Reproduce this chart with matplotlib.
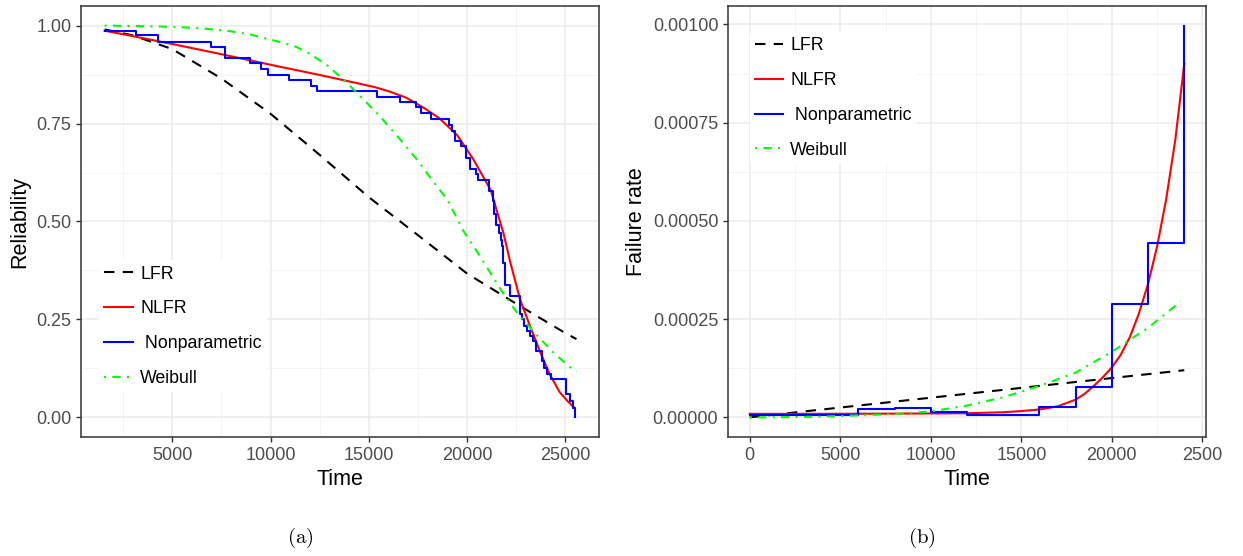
import numpy as np
import matplotlib
matplotlib.use("Agg")
from matplotlib import pyplot as plt
from matplotlib.ticker import MultipleLocator, FormatStrFormatter

plt.rcParams['font.family'] = ['Liberation Sans', 'DejaVu Sans']
plt.rcParams['mathtext.fontset'] = 'cm'

# ---- panel (a): reliability ----
t_lfr = [1560, 3000, 5000, 7500, 10000, 12500, 15000, 17500, 20000, 22500, 25000, 25560]
r_lfr = [0.990, 0.975, 0.940, 0.865, 0.775, 0.670, 0.562, 0.465, 0.367, 0.290, 0.215, 0.200]

t_nlfr = [1560, 2500, 5000, 7500, 10000, 12500, 13500, 14500, 15300, 16100, 16900, 17800,
          18600, 19500, 20300, 21200, 21850, 22200, 22700, 23200, 23700, 24200, 24700,
          25100, 25450]
r_nlfr = [0.987, 0.978, 0.953, 0.927, 0.900, 0.874, 0.863, 0.852, 0.843, 0.831, 0.816, 0.790,
          0.763, 0.720, 0.660, 0.580, 0.470, 0.395, 0.300, 0.233, 0.169, 0.110, 0.065,
          0.042, 0.025]

t_weib = [1560, 3000, 5000, 6500, 7900, 9000, 9600, 10500, 11300, 12000, 12900, 13800,
          14600, 15500, 16500, 17500, 18200, 19000, 19800, 20700, 21700, 22600, 23600,
          24400, 25400, 25560]
r_weib = [1.000, 0.999, 0.997, 0.993, 0.986, 0.977, 0.969, 0.958, 0.946, 0.928, 0.898, 0.858,
          0.818, 0.772, 0.715, 0.655, 0.607, 0.555, 0.477, 0.408, 0.327, 0.263, 0.207,
          0.165, 0.121, 0.117]

# Kaplan-Meier type step curve (value holds until next time)
t_km = [1556, 3150, 4270, 6950, 7660, 8930, 9510, 9870, 10920, 12070, 12360,
        15440, 16560, 17410, 17650, 18160, 19090, 19230, 19360, 19680, 19950,
        20160, 20460, 20550, 21090, 21310, 21390, 21480, 21600, 21720, 21785,
        21850, 21950, 22190, 22670, 22790, 22870, 23040, 23210, 23350, 23500,
        23800, 23890, 24060, 24260, 25040, 25210, 25410, 25510]
r_km = [0.987, 0.975, 0.959, 0.946, 0.918, 0.905, 0.890, 0.875, 0.861, 0.847, 0.833,
        0.818, 0.804, 0.791, 0.777, 0.761, 0.747, 0.732, 0.705, 0.692, 0.661,
        0.635, 0.620, 0.607, 0.579, 0.552, 0.518, 0.492, 0.470, 0.454, 0.437,
        0.395, 0.339, 0.309, 0.265, 0.250, 0.233, 0.220, 0.207, 0.195, 0.169,
        0.144, 0.127, 0.112, 0.097, 0.059, 0.042, 0.025, 0.000]

# ---- panel (b): failure rate ----
t_lfr_h = [0, 24000]
h_lfr = [0.0, 0.000120]

t_nlfr_h = [0, 4000, 8000, 12000, 14000, 15000, 16000, 17000, 18000, 18500, 19000,
            19500, 20000, 20500, 21000, 21500, 22000, 22500, 23000, 23500, 24000]
h_nlfr = [9.0e-6, 9.0e-6, 9.5e-6, 1.05e-5, 1.3e-5, 1.6e-5, 2.0e-5, 2.8e-5, 4.5e-5, 6.0e-5, 8.0e-5,
          1.02e-4, 1.27e-4, 1.60e-4, 2.05e-4, 2.65e-4, 3.40e-4, 4.35e-4, 5.55e-4, 7.05e-4, 9.0e-4]

t_weib_h = [0, 2000, 4000, 6000, 8000, 10000, 12000, 14000, 16000, 18000, 20000, 22000, 23800]
h_weib = [0.0, 0.5e-6, 2.0e-6, 5.0e-6, 8.5e-6, 1.5e-5, 3.0e-5, 5.1e-5, 8.0e-5, 1.14e-4, 1.67e-4,
          2.28e-4, 2.95e-4]

t_np_h = [0, 2000, 4000, 6000, 8000, 10000, 12000, 14000, 16000, 18000, 20000, 22000, 24000, 24000]
h_np = [7e-6, 7e-6, 7e-6, 2.1e-5, 2.3e-5, 1.4e-5, 7e-6, 7e-6, 2.6e-5, 7.6e-5, 2.89e-4, 4.44e-4,
        4.44e-4, 9.97e-4]

dash = (0, (5, 4))
dotdash = (0, (1, 3, 4, 3))
lw = 1.5


def style_axes(ax):
    ax.set_facecolor('white')
    for s in ax.spines.values():
        s.set_color('#333333')
        s.set_linewidth(1.1)
    ax.grid(True, which='major', color='#EBEBEB', lw=1.1)
    ax.grid(True, which='minor', color='#F2F2F2', lw=0.6)
    ax.set_axisbelow(True)
    ax.tick_params(which='major', length=3.5, width=1.0, color='#333333',
                   labelcolor='#4D4D4D', labelsize=13, pad=3.5)
    ax.tick_params(which='minor', length=0)


def add_legend(ax, anchor):
    leg = ax.legend(loc='upper left', bbox_to_anchor=anchor, frameon=True,
                    fontsize=12.8, handlelength=1.6, handletextpad=0.4,
                    labelspacing=1.0, borderpad=0.3, borderaxespad=0)
    leg.get_frame().set_facecolor('white')
    leg.get_frame().set_edgecolor('none')
    leg.get_frame().set_alpha(1)
    return leg


fig = plt.figure(figsize=(12.43, 5.56), dpi=100)

ax1 = fig.add_axes([81/1243, 119/556, 518/1243, 431/556])
ax1.plot(t_lfr, r_lfr, color='black', lw=lw, ls=dash, label='LFR')
ax1.plot(t_nlfr, r_nlfr, color='#FF0000', lw=lw, label='NLFR')
ax1.step(t_km, r_km, where='post', color='#0000FF', lw=lw, label=' Nonparametric')
ax1.plot(t_weib, r_weib, color='#00FF00', lw=lw, ls=dotdash, label='Weibull')
ax1.set_xlim(358, 26708)
ax1.set_ylim(-0.05, 1.05)
ax1.xaxis.set_major_locator(MultipleLocator(5000))
ax1.xaxis.set_minor_locator(MultipleLocator(2500))
ax1.yaxis.set_major_locator(MultipleLocator(0.25))
ax1.yaxis.set_minor_locator(MultipleLocator(0.125))
ax1.yaxis.set_major_formatter(FormatStrFormatter('%.2f'))
style_axes(ax1)
ax1.set_xlabel('Time', fontsize=15.5, labelpad=4)
ax1.set_ylabel('Reliability', fontsize=15.5, labelpad=4)
add_legend(ax1, (0.035, 0.41))

ax2 = fig.add_axes([728/1243, 119/556, 478/1243, 431/556])
ax2.plot(t_lfr_h, h_lfr, color='black', lw=lw, ls=dash, label='LFR')
ax2.plot(t_nlfr_h, h_nlfr, color='#FF0000', lw=lw, label='NLFR')
ax2.step(t_np_h, h_np, where='post', color='#0000FF', lw=lw, label=' Nonparametric')
ax2.plot(t_weib_h, h_weib, color='#00FF00', lw=lw, ls=dotdash, label='Weibull')
ax2.set_xlim(-1200, 25200)
ax2.set_ylim(-0.00005, 0.001047)
ax2.set_xticks([0, 5000, 10000, 15000, 20000, 25000])
ax2.set_xticklabels(['0', '5000', '10000', '15000', '20000', '2500'])
ax2.xaxis.set_minor_locator(MultipleLocator(2500))
ax2.yaxis.set_major_locator(MultipleLocator(0.00025))
ax2.yaxis.set_minor_locator(MultipleLocator(0.000125))
ax2.yaxis.set_major_formatter(FormatStrFormatter('%.5f'))
style_axes(ax2)
ax2.set_xlabel('Time', fontsize=15.5, labelpad=4)
ax2.set_ylabel('Failure rate', fontsize=15.5, labelpad=4)
add_legend(ax2, (0.045, 0.94))

fig.text(300/1243, 1 - 538/556, r'$\mathrm{(a)}$', fontsize=15, ha='center', va='center')
fig.text(922/1243, 1 - 538/556, r'$\mathrm{(b)}$', fontsize=15, ha='center', va='center')

fig.savefig('out.png', dpi=100, facecolor='white')
